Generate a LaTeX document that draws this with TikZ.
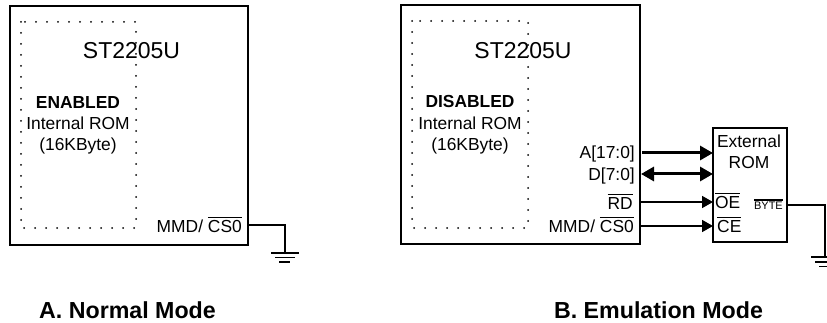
\documentclass[tikz,border=0pt]{standalone}
\usepackage{fontspec}
\setmainfont{Liberation Sans}
\usetikzlibrary{arrows.meta}

\newcommand{\ovl}[1]{\leavevmode\setbox0\hbox{#1}\rlap{\raisebox{.86em}{\rule{\wd0}{1.3pt}}}\box0}

\tikzset{
    romarea/.style={line width=2pt, line cap=round, dash pattern=on 0pt off 11pt},
    lbl/.style={inner sep=0pt, font=\fontsize{17.4}{20}\selectfont},
    title/.style={inner sep=0pt, anchor=base, font=\fontsize{23.2}{26}\selectfont\bfseries},
    bus/.style={line width=3pt, {Triangle[length=13pt,width=14pt]}-{Triangle[length=13pt,width=14pt]}},
    busout/.style={line width=3pt, -{Triangle[length=13pt,width=14pt]}},
    sig/.style={line width=1.6pt, -{Triangle[length=11pt,width=12pt]}},
    wire/.style={line width=1.6pt},
    gndbar/.style={line width=1.3pt}
}

\begin{document}
\begin{tikzpicture}[x=1pt,y=-1pt]
    \useasboundingbox (0,0) rectangle (827,323);

    % Normal mode
    \draw[line width=2pt] (10,6) rectangle (248,245);
    \draw[romarea] (21,22) rectangle (136,228);
    \node[lbl,anchor=base,font=\fontsize{23}{26}\selectfont] (chipA) at (131.5,59) {ST2205U};
    \node[lbl,anchor=base,font=\fontsize{17.4}{20}\selectfont\bfseries] (stateA) at (78,109) {ENABLED};
    \node[lbl,anchor=base] (romA) at (78,130) {Internal ROM};
    \node[lbl,anchor=base] (sizeA) at (78,151) {(16KByte)};
    \node[lbl,anchor=base east] (mmdA) at (242,233) {MMD/ \ovl{CS0}};
    \coordinate (pinA) at (248,225);
    \coordinate (cornerA) at (285,225);
    \coordinate (gndA) at (285,253);
    \draw[wire] (pinA) -- (cornerA) -- (gndA);
    \draw[gndbar] (271,253) -- (299,253);
    \draw[gndbar] (275,257.5) -- (295,257.5);
    \draw[gndbar] (279,262) -- (290,262);
    \node[title] (titleA) at (127.5,318) {A. Normal Mode};

    % Emulation mode
    \draw[line width=2pt] (401,5) rectangle (640,244);
    \draw[romarea] (412,21) rectangle (528,228);
    \node[lbl,anchor=base,font=\fontsize{23}{26}\selectfont] (chipB) at (523,59) {ST2205U};
    \node[lbl,anchor=base,font=\fontsize{17.4}{20}\selectfont\bfseries] (stateB) at (470,108) {DISABLED};
    \node[lbl,anchor=base] (romB) at (470,130) {Internal ROM};
    \node[lbl,anchor=base] (sizeB) at (470,151) {(16KByte)};
    \node[lbl,anchor=base east] (addr) at (635,159) {A[17:0]};
    \node[lbl,anchor=base east] (data) at (635,181) {D[7:0]};
    \node[lbl,anchor=base east] (rd) at (633,210) {\ovl{RD}};
    \node[lbl,anchor=base east] (mmdB) at (634,233) {MMD/ \ovl{CS0}};

    % External ROM
    \draw[line width=2pt] (713,128) rectangle (787,242);
    \node[lbl,anchor=base] (ext) at (749,148) {External};
    \node[lbl,anchor=base] (extrom) at (749,169) {ROM};
    \node[lbl,anchor=base west] (oe) at (715,209) {\ovl{OE}};
    \node[lbl,anchor=base west] (ce) at (717,233) {\ovl{CE}};
    \node[lbl,anchor=base east,font=\fontsize{11}{13}\selectfont] (byte) at (783,210) {\ovl{BYTE}};

    \coordinate (addrS) at (642,153);
    \coordinate (addrE) at (713,153);
    \coordinate (dataS) at (641,174);
    \coordinate (dataE) at (713,174);
    \coordinate (rdS) at (640,202);
    \coordinate (rdE) at (713,202);
    \coordinate (csS) at (640,226);
    \coordinate (csE) at (713,226);
    \draw[busout] (addrS) -- (addrE);
    \draw[bus] (dataS) -- (dataE);
    \draw[sig] (rdS) -- (rdE);
    \draw[sig] (csS) -- (csE);

    \coordinate (pinB) at (787,205);
    \coordinate (cornerB) at (825,205);
    \coordinate (gndB) at (825,257);
    \draw[wire] (pinB) -- (cornerB) -- (gndB);
    \draw[gndbar] (811,257) -- (839,257);
    \draw[gndbar] (815,262) -- (835,262);
    \draw[gndbar] (819,266.5) -- (830,266.5);
    \node[title] (titleB) at (658.5,318) {B. Emulation Mode};
\end{tikzpicture}
\end{document}
